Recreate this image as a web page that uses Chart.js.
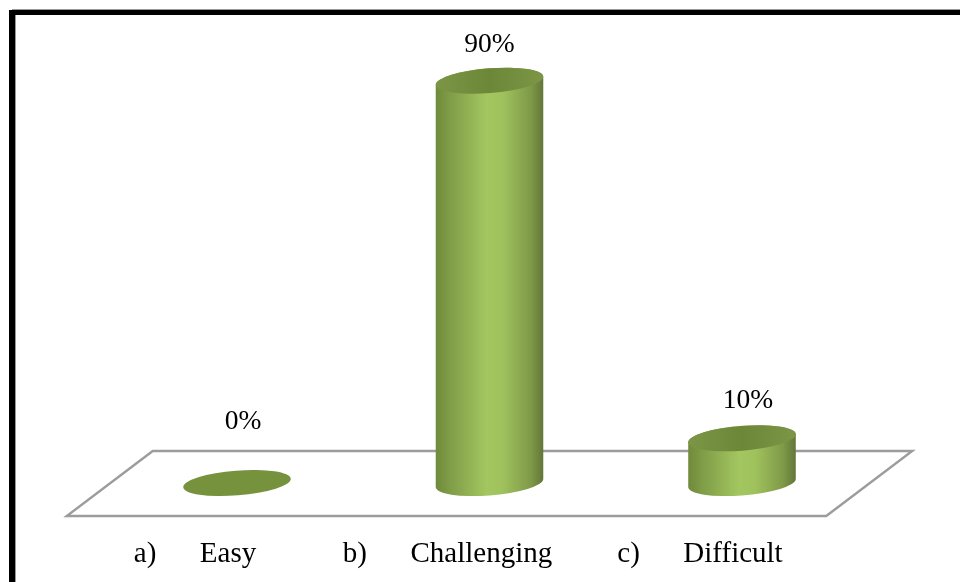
<!DOCTYPE html>
<html>
<head>
<meta charset="utf-8">
<style>
html, body { margin: 0; padding: 0; background: #fff; }
#wrap { width: 960px; height: 582px; position: relative; }
</style>
<script src="https://cdn.jsdelivr.net/npm/chart.js@4"></script>
</head>
<body>
<div id="wrap"><canvas id="mycanvas" width="960" height="582"></canvas></div>
<script>
var options = ["a)", "b)", "c)"];
var categories = ["Easy", "Challenging", "Difficult"];
var percents = [0, 90, 10];

// the value labels were placed by hand, so each has its own shift from the cap
var labelShiftX = [6, 0, 6];
var labelShiftY = [-61, -36, -38];

var serif = '"Liberation Serif", "Times New Roman", serif';
var GAP = "      ";

// ends of the tilted ellipse's vertical tangents
function tangentAngle(a, b, rot) {
	return Math.atan2(-b * Math.sin(rot), a * Math.cos(rot));
}

var frame = {
	id: "frame",
	beforeDraw: function(chart) {
		var ctx = chart.ctx;
		ctx.save();
		ctx.fillStyle = "#000";
		ctx.fillRect(9, 10, 951, 5);
		ctx.fillRect(9, 10, 6, 572);
		ctx.fillStyle = "#999";
		ctx.fillRect(12, 9, 948, 1);
		ctx.fillRect(15, 15, 1, 567);
		ctx.restore();
	}
};

// flat floor the cylinders stand on
var floor = {
	id: "floor",
	beforeDatasetsDraw: function(chart) {
		var ctx = chart.ctx, area = chart.chartArea;
		var base = area.bottom;
		ctx.save();
		ctx.strokeStyle = "#9c9c9c";
		ctx.lineWidth = 2.4;
		ctx.lineJoin = "miter";
		ctx.beginPath();
		ctx.moveTo(area.left - 44, base + 33);
		ctx.lineTo(area.right - 42, base + 33);
		ctx.lineTo(area.right + 44, base - 32);
		ctx.lineTo(area.left + 42, base - 32);
		ctx.closePath();
		ctx.stroke();
		ctx.restore();
	}
};

var cylinders = {
	id: "cylinders",
	afterDatasetsDraw: function(chart) {
		var ctx = chart.ctx;
		var bars = chart.getDatasetMeta(0).data;
		bars.forEach(function(bar, i) {
			var a = bar.width / 2 + 0.4, b = 12.4, rot = -4.5 * Math.PI / 180;
			var t0 = tangentAngle(a, b, rot);
			var cx = bar.x, top = bar.y, base = bar.base;
			ctx.save();
			if (base - top > 1) {
				var g = ctx.createLinearGradient(cx - a, 0, cx + a, 0);
				g.addColorStop(0, "#6f8a3a");
				g.addColorStop(0.13, "#7f9c47");
				g.addColorStop(0.47, "#a3c660");
				g.addColorStop(0.62, "#a0c25d");
				g.addColorStop(0.88, "#7f9a48");
				g.addColorStop(1, "#627639");
				ctx.fillStyle = g;
				ctx.beginPath();
				ctx.ellipse(cx, base, a, b, rot, t0, t0 + Math.PI, false);
				ctx.ellipse(cx, top, a, b, rot, t0 + Math.PI, t0 + 2 * Math.PI, false);
				ctx.closePath();
				ctx.fill();
				var lid = ctx.createLinearGradient(cx - a, 0, cx + a, 0);
				lid.addColorStop(0, "#7c9646");
				lid.addColorStop(0.5, "#6d8739");
				lid.addColorStop(1, "#7c9646");
				ctx.fillStyle = lid;
			} else {
				ctx.fillStyle = "#76923c";
			}
			ctx.beginPath();
			ctx.ellipse(cx, top, a, b, rot, 0, 2 * Math.PI);
			ctx.fill();
			ctx.restore();

			ctx.save();
			ctx.fillStyle = "#000";
			ctx.font = "27.5px " + serif;
			ctx.textAlign = "center";
			ctx.textBaseline = "middle";
			ctx.fillText(percents[i] + "%", cx + labelShiftX[i], top + labelShiftY[i]);
			ctx.restore();
		});
	}
};

var barGraph = new Chart(document.getElementById("mycanvas"), {
	type: "bar",
	data: {
		labels: categories,
		datasets: [{
			label: "Response",
			data: percents,
			backgroundColor: "rgba(0,0,0,0)",
			borderWidth: 0,
			barPercentage: 0.424,
			categoryPercentage: 1
		}]
	},
	options: {
		responsive: false,
		animation: false,
		layout: { padding: { left: 110.75, right: 91.75, top: 36, bottom: 0 } },
		plugins: { legend: { display: false }, tooltip: { enabled: false } },
		scales: {
			x: {
				border: { display: false },
				grid: { display: false, drawTicks: false },
				afterFit: function(scale) { scale.height = 99; },
				ticks: {
					autoSkip: false,
					maxRotation: 0,
					padding: 54,
					labelOffset: -42,
					color: "#000",
					font: { family: serif, size: 29 },
					callback: function(value, i) {
						return options[i] + GAP + categories[i];
					}
				}
			},
			y: {
				display: false,
				min: 0,
				max: 100
			}
		}
	},
	plugins: [frame, floor, cylinders]
});
</script>
</body>
</html>
